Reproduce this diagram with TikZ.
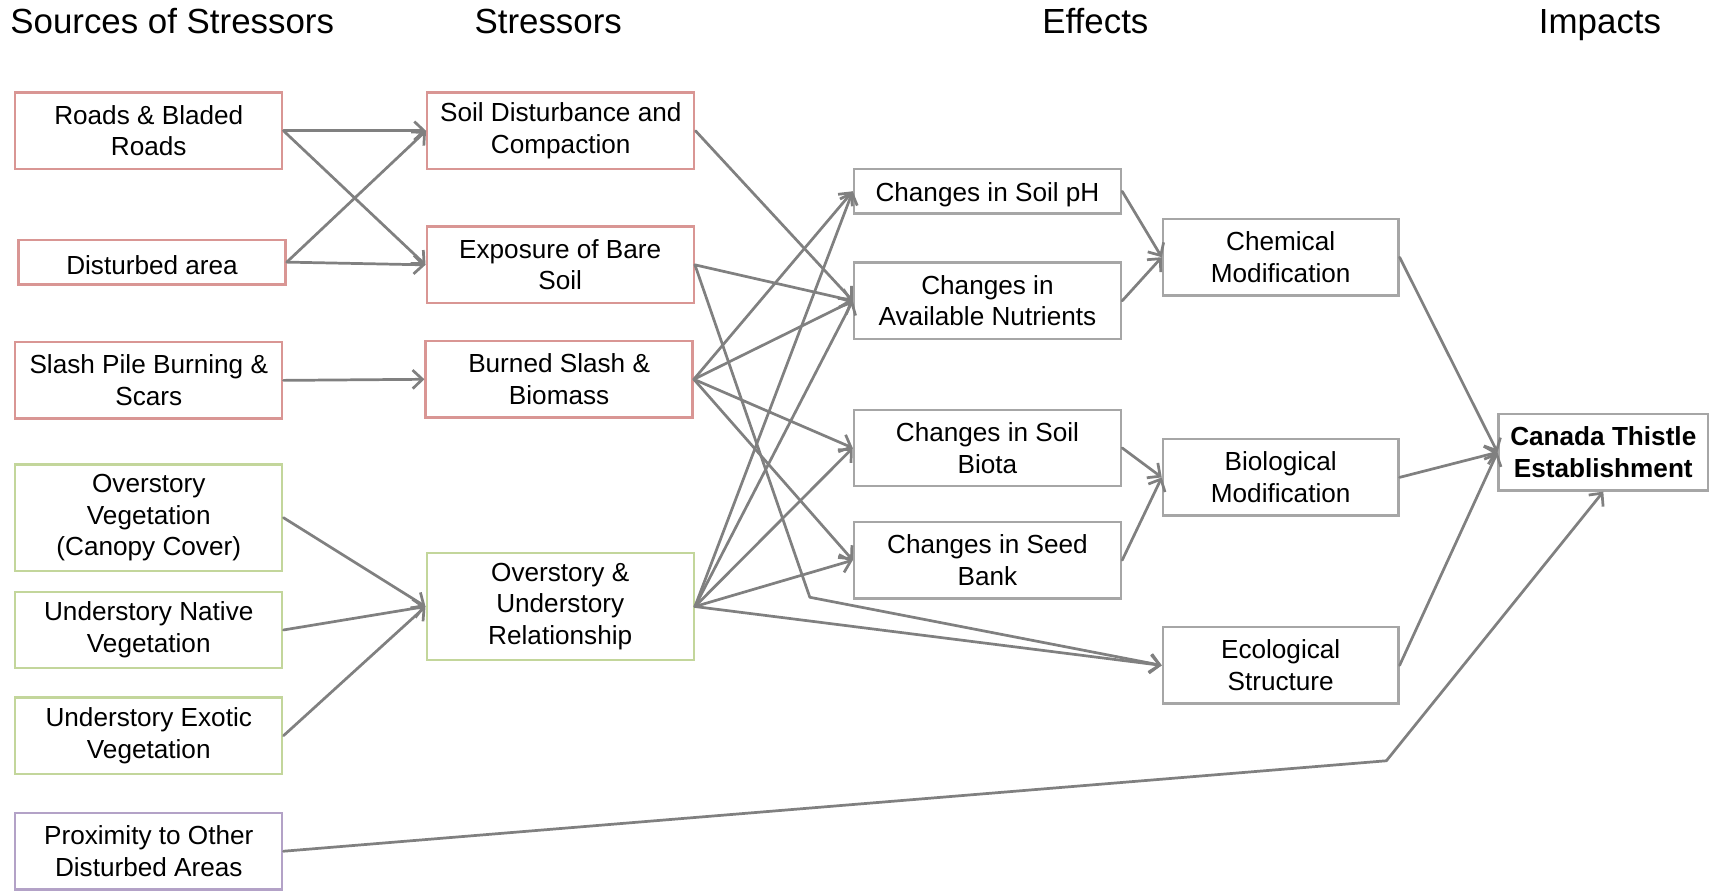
\documentclass[tikz,border=0pt]{standalone}
\usepackage{fontspec}
\setmainfont{Liberation Sans}
\usepackage{xcolor}
\usepackage{tikz}
\usetikzlibrary{
  arrows.meta,
  calc,
  positioning}

\definecolor{stressred}{RGB}{217,150,148}
\definecolor{stressgreen}{RGB}{195,214,155}
\definecolor{stresspurple}{RGB}{179,162,199}
\definecolor{effectgrey}{RGB}{166,166,166}
\definecolor{linkgrey}{RGB}{128,128,128}

\tikzset{
  box/.style={rectangle,draw,line width=1.1pt,fill=white,text centered,align=center,inner sep=0pt,
    minimum width=122.5pt,minimum height=35pt,font=\fontsize{12}{14.5}\selectfont,
    execute at begin node={\rule{0pt}{11.7pt}}},
  redbox/.style={box,draw=stressred},
  greenbox/.style={box,draw=stressgreen},
  purplebox/.style={box,draw=stresspurple},
  greybox/.style={box,draw=effectgrey},
  heading/.style={font=\fontsize{16}{19}\selectfont,anchor=base,inner sep=0pt},
  link/.style={->,draw=linkgrey,line width=1.25pt,line join=round,line cap=round}
}

\begin{document}
\begin{tikzpicture}[>={Straight Barb[length=4.5pt,width=8.5pt]},x=0.5pt,y=-0.5pt]
        \useasboundingbox (0,0) rectangle (1568,817);
        % Headings
        \node(hsources) at (158,31)[heading] {Sources of Stressors};
        \node(hstressors) at (503,31)[heading] {Stressors};
        \node(heffects) at (1005,31)[heading] {Effects};
        \node(himpacts) at (1468,31)[heading] {Impacts};
        % Sources
        \node(roads) at (136.5,120)[redbox] {Roads \& Bladed\\Roads};
        \node(disturbed) at (139.5,240.5)[redbox,minimum height=20.5pt] {Disturbed area};
        \node(slashpile) at (136.5,349)[redbox] {Slash Pile Burning \&\\Scars};
        \node(overveg) at (136.5,475)[greenbox,minimum height=49pt] {Overstory\\Vegetation\\(Canopy Cover)};
        \node(natveg) at (136.5,578)[greenbox] {Understory Native\\Vegetation};
        \node(exoveg) at (136.5,675)[greenbox] {Understory Exotic\\Vegetation};
        \node(proximity) at (136.5,781)[purplebox] {Proximity to Other\\Disturbed Areas};
        % Stressors
        \node(compaction) at (514.5,120)[redbox] {Soil Disturbance and\\Compaction};
        \node(baresoil) at (514,243)[redbox] {Exposure of Bare\\Soil};
        \node(burned) at (513,348)[redbox] {Burned Slash \&\\Biomass};
        \node(overunder) at (514,556.5)[greenbox,minimum height=49pt] {Overstory \&\\Understory\\Relationship};
        % Effects
        \node(soilph) at (906,175.5)[greybox,minimum height=20.5pt] {Changes in Soil pH};
        \node(nutrients) at (906,276)[greybox] {Changes in\\Available Nutrients};
        \node(biota) at (906,411)[greybox] {Changes in Soil\\Biota};
        \node(seedbank) at (906,514)[greybox] {Changes in Seed\\Bank};
        \node(chemical) at (1175,236)[greybox,minimum width=108pt] {Chemical\\Modification};
        \node(biological) at (1175,438)[greybox,minimum width=108pt] {Biological\\Modification};
        \node(ecological) at (1175,610.5)[greybox,minimum width=108pt] {Ecological\\Structure};
        % Impact
        \node(thistle) at (1471,415)[greybox,minimum width=96pt,font=\fontsize{12}{14.5}\selectfont\bfseries] {Canada Thistle\\Establishment};
        \coordinate(bendbare) at (743,548);
        \coordinate(bendprox) at (1272,698);
        % Links
        \draw[link] (roads.east) -- (compaction.west);
        \draw[link] (roads.east) -- (baresoil.west);
        \draw[link] (disturbed.east) -- (compaction.west);
        \draw[link] (disturbed.east) -- (baresoil.west);
        \draw[link] (slashpile.east) -- (burned.west);
        \draw[link] (overveg.east) -- (overunder.west);
        \draw[link] (natveg.east) -- (overunder.west);
        \draw[link] (exoveg.east) -- (overunder.west);
        \draw[link] (proximity.east) -- (bendprox) -- (thistle.south);
        \draw[link] (compaction.east) -- (nutrients.west);
        \draw[link] (baresoil.east) -- (nutrients.west);
        \draw[link] (baresoil.east) -- (bendbare) -- (ecological.west);
        \foreach \e in {soilph,nutrients,biota,seedbank}{
          \draw[link] (burned.east) -- (\e.west);
          \draw[link] (overunder.east) -- (\e.west);
        }
        \draw[link] (overunder.east) -- (ecological.west);
        \draw[link] (soilph.east) -- (chemical.west);
        \draw[link] (nutrients.east) -- (chemical.west);
        \draw[link] (biota.east) -- (biological.west);
        \draw[link] (seedbank.east) -- (biological.west);
        \draw[link] (chemical.east) -- (thistle.west);
        \draw[link] (biological.east) -- (thistle.west);
        \draw[link] (ecological.east) -- (thistle.west);
    \end{tikzpicture}
\end{document}
